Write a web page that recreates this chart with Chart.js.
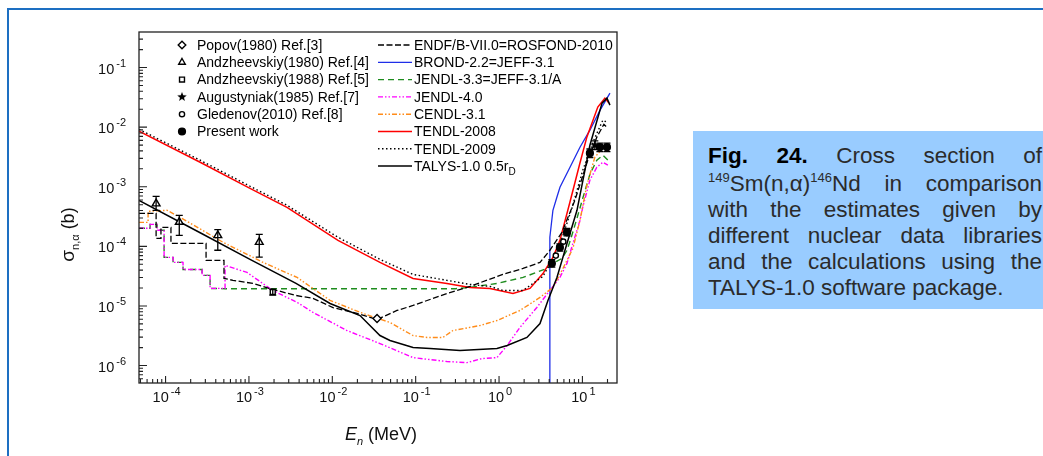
<!DOCTYPE html>
<html>
<head>
<meta charset="utf-8">
<script src="https://cdn.jsdelivr.net/npm/chart.js@4.4.1/dist/chart.umd.min.js"></script>
<style>
  body { margin: 0; background: #fff; width: 1043px; height: 456px; overflow: hidden; position: relative; font-family: "Liberation Sans", Arial, sans-serif; }
  #c { position: absolute; left: 0; top: 0; }
  .frameTop { position: absolute; left: 7px; top: 8px; width: 1036px; height: 2px; background: #1d6fc2; }
  .frameLeft { position: absolute; left: 7px; top: 8px; width: 2px; height: 448px; background: #1d6fc2; }
  .cap { position: absolute; left: 693px; top: 131px; width: 350px; height: 178px; background: #99ccff; }
  .txt { position: absolute; left: 708px; top: 143px; width: 334px; font-size: 22.5px; line-height: 26px; color: #2b2b2b; }
  .ln { text-align: justify; text-align-last: justify; height: 26px; white-space: nowrap; }
  .last { text-align: left; text-align-last: left; }
  .sup { font-size: 13px; position: relative; top: -9px; line-height: 0; }
  b { color: #000; }
</style>
</head>
<body>
<canvas id="c" width="1043" height="456"></canvas>
<div class="frameTop"></div>
<div class="frameLeft"></div>
<div class="cap"></div>
<div class="txt">
  <div class="ln"><b>Fig. 24.</b> Cross section of</div>
  <div class="ln" style="margin-top:2px"><span class="sup">149</span>Sm(n,α)<span class="sup">146</span>Nd in comparison</div>
  <div class="ln">with the estimates given by</div>
  <div class="ln">different nuclear data libraries</div>
  <div class="ln">and the calculations using the</div>
  <div class="ln last">TALYS-1.0 software package.</div>
</div>
<script>
// energies in MeV, cross sections in b

// evaluated libraries
const endfE = [4.8e-5, 7.7e-5, 7.7e-5, 8.8e-5, 8.8e-5, 1.16e-4, 1.16e-4, 3.06e-4, 3.06e-4, 5.02e-4, 5.02e-4, 6.44e-4, 1.12e-3, 1.74e-3, 3.67e-3, 5.87e-3, 1.02e-2, 1.98e-2, 3.44e-2, 5.97e-2, 9.3e-2, 0.237, 0.448, 1.11, 1.94, 3.10, 4.07, 5.68, 8.13, 11.6, 14.9, 18.1, 20.2]
const endfS = [3.59e-4, 3.59e-4, 1.36e-4, 1.36e-4, 2.08e-4, 2.08e-4, 1.12e-4, 1.12e-4, 5.82e-5, 5.82e-5, 2.90e-5, 2.69e-5, 2.39e-5, 1.97e-5, 1.50e-5, 1.34e-5, 9.4e-6, 7.5e-6, 5.93e-6, 8.4e-6, 1.02e-5, 1.62e-5, 2.13e-5, 3.38e-5, 4.26e-5, 5.38e-5, 8.57e-5, 1.72e-4, 5.93e-4, 2.79e-3, 6.8e-3, 1.12e-2, 9.6e-3]

const brondE = [4.07, 4.07, 4.43, 4.94, 5.38, 7.10, 9.35, 12.3, 16.3, 21.4]
const brondS = [1e-7, 1.42e-4, 4.03e-4, 6.67e-4, 9.8e-4, 2.13e-3, 4.61e-3, 8.9e-3, 1.93e-2, 3.73e-2]

const jendl33E = [4.8e-5, 6.52e-5, 6.52e-5, 7.91e-5, 7.91e-5, 9.6e-5, 9.6e-5, 1.23e-4, 1.23e-4, 1.62e-4, 1.62e-4, 2.74e-4, 2.74e-4, 3.42e-4, 3.42e-4, 5.17e-4, 0.30, 0.448, 0.944, 1.94, 3.75, 4.68, 5.68, 6.53, 7.28, 8.61, 10.1, 12.3, 14.9, 17.6, 20.2]
const jendl33S = [2.01e-4, 2.01e-4, 2.34e-4, 2.34e-4, 1.86e-4, 1.86e-4, 6.53e-5, 6.53e-5, 5.38e-5, 5.38e-5, 4.10e-5, 4.10e-5, 3.26e-5, 3.26e-5, 1.97e-5, 1.95e-5, 1.95e-5, 2.05e-5, 2.39e-5, 3.01e-5, 4.26e-5, 5.38e-5, 6.28e-5, 8.57e-5, 1.36e-4, 2.96e-4, 6.41e-4, 1.62e-3, 2.79e-3, 3.38e-3, 2.79e-3]

const jendl40E = [4.8e-5, 6.52e-5, 6.52e-5, 7.91e-5, 7.91e-5, 9.6e-5, 9.6e-5, 1.23e-4, 1.23e-4, 1.62e-4, 1.62e-4, 2.74e-4, 2.74e-4, 3.42e-4, 3.42e-4, 5.17e-4, 5.17e-4, 9.49e-4, 1.93e-3, 3.78e-3, 5.87e-3, 1.50e-2, 3.73e-2, 9.3e-2, 0.237, 0.412, 0.624, 0.944, 1.25, 1.78, 2.84, 4.07, 5.37, 6.53, 7.69, 9.35, 10.1, 12.3, 14.9, 17.6, 20.2]
const jendl40S = [2.01e-4, 2.01e-4, 2.34e-4, 2.34e-4, 1.86e-4, 1.86e-4, 6.53e-5, 6.53e-5, 5.38e-5, 5.38e-5, 4.10e-5, 4.10e-5, 3.26e-5, 3.26e-5, 1.97e-5, 1.97e-5, 4.80e-5, 3.65e-5, 1.82e-5, 1.15e-5, 7.78e-6, 3.87e-6, 2.34e-6, 1.36e-6, 1.17e-6, 1.12e-6, 1.31e-6, 1.36e-6, 2.17e-6, 4.36e-6, 9.44e-6, 1.82e-5, 3.01e-5, 5.18e-5, 1.12e-4, 2.73e-4, 4.52e-4, 1.29e-3, 2.13e-3, 2.58e-3, 2.30e-3]

const cendlE = [4.8e-5, 6.17e-5, 6.17e-5, 1.04e-4, 1.49e-4, 4.89e-4, 1.48e-3, 3.78e-3, 9.38e-3, 2.33e-2, 4.92e-2, 9.3e-2, 0.137, 0.212, 0.280, 0.59, 0.944, 1.78, 3.10, 4.43, 5.84, 7.69, 9.35, 11.3, 14.1, 16.7]
const cendlS = [2.53e-4, 2.53e-4, 3.87e-4, 4.03e-4, 3.07e-4, 1.17e-4, 5.38e-5, 3.01e-5, 1.24e-5, 7.5e-6, 5.28e-6, 3.19e-6, 2.96e-6, 2.96e-6, 3.87e-6, 4.70e-6, 5.70e-6, 8.4e-6, 1.39e-5, 2.05e-5, 4.26e-5, 9.25e-5, 2.73e-4, 1.06e-3, 3.13e-3, 4.10e-3]

const tendl08E = [4.8e-5, 2.6e-4, 1.03e-3, 2.86e-3, 1.17e-2, 3.73e-2, 9.3e-2, 0.237, 0.448, 0.778, 1.47, 2.35, 3.36, 4.43, 5.37, 7.08, 9.33, 11.3, 15.3, 18.6, 20.8]
const tendl08S = [8.6e-3, 2.58e-3, 9.4e-4, 4.5e-4, 1.26e-4, 5.4e-5, 2.9e-5, 2.39e-5, 2.05e-5, 1.97e-5, 1.62e-5, 1.97e-5, 3.5e-5, 6.5e-5, 1.26e-4, 5.5e-4, 2.48e-3, 6.8e-3, 2.17e-2, 3.07e-2, 2.53e-2]

const tendl09E = [4.8e-5, 2.6e-4, 1.03e-3, 2.86e-3, 1.17e-2, 3.73e-2, 9.3e-2, 0.237, 0.448, 0.778, 1.11, 1.94, 3.36, 4.43, 5.68, 7.48, 10.1, 13.7, 17.6, 19.7]
const tendl09S = [9.2e-3, 2.79e-3, 1.02e-3, 4.89e-4, 1.42e-4, 6.05e-5, 3.38e-5, 2.69e-5, 2.30e-5, 2.13e-5, 1.82e-5, 1.82e-5, 3.13e-5, 6.28e-5, 1.36e-4, 4.36e-4, 1.89e-3, 6.05e-3, 1.31e-2, 1.21e-2]

const talysE = [4.8e-5, 2.6e-4, 1.03e-3, 3.67e-3, 9.4e-3, 2.15e-2, 3.73e-2, 4.92e-2, 9.3e-2, 0.149, 0.34, 0.944, 1.25, 2.16, 3.10, 3.86, 4.95, 6.53, 8.61, 12.3, 17.2, 19.7, 21.4]
const talysS = [5.93e-4, 1.69e-4, 6.05e-5, 2.39e-5, 1.10e-5, 6.9e-6, 3.19e-6, 2.63e-6, 2.01e-6, 1.93e-6, 1.79e-6, 1.93e-6, 2.17e-6, 2.96e-6, 5.08e-6, 1.24e-5, 3.01e-5, 1.12e-4, 4.03e-4, 4.98e-3, 2.53e-2, 3.07e-2, 2.34e-2]

// measurements
const popovE = [3.44e-2]
const popovS = [6.17e-6]

const andz80E = [7.7e-5, 1.46e-4, 4.23e-4, 1.33e-3]
const andz80S = [5.22e-4, 2.56e-4, 1.53e-4, 1.18e-4]
const andz80Lo = [4.03e-4, 1.53e-4, 8.6e-5, 6.6e-5]
const andz80Hi = [6.92e-4, 3.32e-4, 1.91e-4, 1.59e-4]

const andz88E = [1.93e-3]
const andz88S = [1.71e-5]
const andz88Lo = [1.52e-5]
const andz88Hi = [1.92e-5]

const augE = [14.1]
const augS = [4.98e-3]
const augLo = [4.2e-3]
const augHi = [5.9e-3]

const gledE = [4.8, 5.9]
const gledS = [7.0e-5, 1.2e-4]

const presentE = [4.3, 5.37, 6.53, 12.3, 16.2, 19.7]
const presentS = [5.18e-5, 9.6e-5, 1.72e-4, 3.66e-3, 4.61e-3, 4.61e-3]
const presentLo = [4.5e-5, 8.3e-5, 1.5e-4, 3.1e-3, 3.9e-3, 3.9e-3]
const presentHi = [6.0e-5, 1.1e-4, 2.0e-4, 4.3e-3, 5.4e-3, 5.4e-3]

const FONT = '"Liberation Sans", Arial, sans-serif'

const pts = (E, S) => E.map((e, i) => ({ x: e, y: S[i] }))

function starImage (r) {
  const c = document.createElement('canvas')
  c.width = c.height = 2 * r + 2
  const g = c.getContext('2d')
  g.fillStyle = '#000'
  g.beginPath()
  for (let i = 0; i < 10; i++) {
    const a = -Math.PI / 2 + i * Math.PI / 5
    const rr = i % 2 ? r * 0.42 : r
    g.lineTo(r + 1 + rr * Math.cos(a), r + 1 + rr * Math.sin(a))
  }
  g.closePath()
  g.fill()
  return c
}
const star = starImage(5)

function lineSet (label, E, S, color, dash, width, order) {
  return {
    label, data: pts(E, S), showLine: true, pointRadius: 0,
    borderColor: color, backgroundColor: color, borderDash: dash,
    borderWidth: width, order, tension: 0, isCurve: true
  }
}

function markSet (label, E, S, style, radius, fill, lo, hi) {
  return {
    label, data: pts(E, S), showLine: false, pointStyle: style,
    pointRadius: radius, pointBorderWidth: 1.4, borderColor: '#000',
    backgroundColor: fill, order: 0, errLo: lo, errHi: hi, isMark: true
  }
}

const datasets = [
  markSet('Popov(1980) Ref.[3]', popovE, popovS, 'rectRot', 4, '#fff'),
  markSet('Andzheevskiy(1980) Ref.[4]', andz80E, andz80S, 'triangle', 4.5, '#fff', andz80Lo, andz80Hi),
  markSet('Andzheevskiy(1988) Ref.[5]', andz88E, andz88S, 'rect', 3.5, '#fff', andz88Lo, andz88Hi),
  markSet('Augustyniak(1985) Ref.[7]', augE, augS, star, 5, '#000', augLo, augHi),
  markSet('Gledenov(2010) Ref.[8]', gledE, gledS, 'circle', 2.6, '#fff'),
  markSet('Present work', presentE, presentS, 'circle', 3.4, '#000', presentLo, presentHi),
  lineSet('ENDF/B-VII.0=ROSFOND-2010', endfE, endfS, '#000', [6, 2.5], 1.3, 2),
  lineSet('BROND-2.2=JEFF-3.1', brondE, brondS, '#1f2ee8', [], 1.3, 8),
  lineSet('JENDL-3.3=JEFF-3.1/A', jendl33E, jendl33S, '#1e8c1e', [6, 4], 1.4, 7),
  lineSet('JENDL-4.0', jendl40E, jendl40S, '#ff00ff', [5, 2, 1.5, 2, 1.5, 2], 1.4, 6),
  lineSet('CENDL-3.1', cendlE, cendlS, '#ff8c1a', [5, 2, 1.5, 2, 1.5, 2], 1.4, 5),
  lineSet('TENDL-2008', tendl08E, tendl08S, '#ff0000', [], 1.5, 4),
  lineSet('TENDL-2009', tendl09E, tendl09S, '#000', [1.5, 2.5], 1.4, 3),
  lineSet('TALYS-1.0 0.5r', talysE, talysS, '#000', [], 1.5, 1)
]

function logTicks (min, max) {
  const out = []
  for (let n = Math.floor(Math.log10(min)); n <= Math.ceil(Math.log10(max)); n++) {
    for (let k = 1; k <= 9; k++) {
      const v = Number((k * Math.pow(10, n)).toPrecision(3))
      if (v >= min && v <= max) out.push({ value: v, major: k === 1 })
    }
  }
  return out
}

function powLabel (ctx, exp, x, y, align) {
  ctx.font = '14.5px ' + FONT
  const w1 = ctx.measureText('10').width
  ctx.font = '11px ' + FONT
  const w2 = ctx.measureText(String(exp)).width
  const total = w1 + 2 + w2
  const x0 = align === 'center' ? x - total / 2 : x - total
  ctx.textAlign = 'left'
  ctx.textBaseline = 'middle'
  ctx.font = '14.5px ' + FONT
  ctx.fillText('10', x0, y)
  ctx.font = '11px ' + FONT
  ctx.fillText(String(exp), x0 + w1 + 2, y - 6)
}

const errorBars = {
  id: 'errorBars',
  afterDatasetsDraw (chart) {
    const { ctx, scales: { x, y } } = chart
    ctx.save()
    ctx.strokeStyle = '#000'
    ctx.lineWidth = 1.3
    chart.data.datasets.forEach(ds => {
      if (!ds.errLo) return
      ds.data.forEach((p, i) => {
        const px = x.getPixelForValue(p.x)
        const y1 = y.getPixelForValue(ds.errLo[i])
        const y2 = y.getPixelForValue(ds.errHi[i])
        ctx.beginPath()
        ctx.moveTo(px, y1); ctx.lineTo(px, y2)
        ctx.moveTo(px - 3.5, y1); ctx.lineTo(px + 3.5, y1)
        ctx.moveTo(px - 3.5, y2); ctx.lineTo(px + 3.5, y2)
        ctx.stroke()
      })
    })
    ctx.restore()
  }
}

const frameAxes = {
  id: 'frameAxes',
  afterDraw (chart) {
    const { ctx, chartArea: a, scales: { x, y } } = chart
    ctx.save()
    ctx.strokeStyle = '#222'
    ctx.lineWidth = 1.3
    ctx.strokeRect(a.left, a.top, a.right - a.left, a.bottom - a.top)
    ctx.lineWidth = 1.1
    ctx.beginPath()
    x.ticks.forEach(t => {
      const px = x.getPixelForValue(t.value)
      const len = t.major ? 7 : 4
      ctx.moveTo(px, a.bottom); ctx.lineTo(px, a.bottom - len)
    })
    y.ticks.forEach(t => {
      const py = y.getPixelForValue(t.value)
      const len = t.major ? 8 : 4
      ctx.moveTo(a.left, py); ctx.lineTo(a.left + len, py)
    })
    ctx.stroke()

    ctx.fillStyle = '#111'
    x.ticks.filter(t => t.major).forEach(t => {
      powLabel(ctx, Math.round(Math.log10(t.value)), x.getPixelForValue(t.value) + 1, a.bottom + 15, 'center')
    })
    y.ticks.filter(t => t.major).forEach(t => {
      powLabel(ctx, Math.round(Math.log10(t.value)), a.left - 13, y.getPixelForValue(t.value) + 2, 'right')
    })

    // x title
    ctx.textBaseline = 'alphabetic'
    ctx.font = 'italic 18px ' + FONT
    const wE = ctx.measureText('E').width
    ctx.font = 'italic 11px ' + FONT
    const wn = ctx.measureText('n').width
    ctx.font = '18px ' + FONT
    const wM = ctx.measureText(' (MeV)').width
    let tx = (a.left + a.right) / 2 + 3 - (wE + wn + wM) / 2
    ctx.font = 'italic 18px ' + FONT
    ctx.fillText('E', tx, 440)
    ctx.font = 'italic 11px ' + FONT
    ctx.fillText('n', tx + wE, 445)
    ctx.font = '18px ' + FONT
    ctx.fillText(' (MeV)', tx + wE + wn, 440)

    // y title
    ctx.save()
    ctx.translate(74, (a.top + a.bottom) / 2 + 27)
    ctx.rotate(-Math.PI / 2)
    ctx.font = '19px ' + FONT
    const ws = ctx.measureText('σ').width
    ctx.font = '11px ' + FONT
    const wsub = ctx.measureText('n,α').width
    ctx.font = '18px ' + FONT
    const wb = ctx.measureText(' (b)').width
    tx = -(ws + wsub + wb) / 2
    ctx.font = '19px ' + FONT
    ctx.fillText('σ', tx, 0)
    ctx.font = '11px ' + FONT
    ctx.fillText('n,α', tx + ws, 5)
    ctx.font = '18px ' + FONT
    ctx.fillText(' (b)', tx + ws + wsub, 0)
    ctx.restore()

    // legend
    const marks = chart.data.datasets.filter(d => d.isMark)
    const curves = chart.data.datasets.filter(d => d.isCurve)
    ctx.textBaseline = 'middle'
    marks.forEach((d, i) => {
      const ly = a.top + 13 + i * 17.3
      ctx.strokeStyle = '#000'
      ctx.fillStyle = d.backgroundColor
      ctx.lineWidth = 1.4
      Chart.helpers.drawPoint(ctx, { pointStyle: d.pointStyle, radius: Math.min(d.pointRadius, 3.8), rotation: 0, borderWidth: 1.4 }, a.left + 43, ly)
      ctx.fillStyle = '#000'
      ctx.font = '14px ' + FONT
      ctx.fillText(d.label, a.left + 58, ly + 1)
    })
    curves.forEach((d, i) => {
      const ly = a.top + 13 + i * 17.3
      ctx.strokeStyle = d.borderColor
      ctx.lineWidth = d.borderWidth
      ctx.setLineDash(d.borderDash)
      ctx.beginPath()
      ctx.moveTo(a.left + 239, ly); ctx.lineTo(a.left + 273, ly)
      ctx.stroke()
      ctx.setLineDash([])
      ctx.fillStyle = '#000'
      ctx.font = '14px ' + FONT
      ctx.fillText(d.label, a.left + 275, ly + 1)
      if (d.label.startsWith('TALYS')) {
        const w = ctx.measureText(d.label).width
        ctx.font = '10px ' + FONT
        ctx.fillText('D', a.left + 275 + w, ly + 6)
      }
    })
    ctx.restore()
  }
}

const chart = new Chart(document.getElementById('c'), {
  type: 'scatter',
  data: { datasets },
  options: {
    responsive: false,
    animation: false,
    layout: { padding: { left: 139, top: 32, right: 426, bottom: 73 } },
    plugins: { legend: { display: false }, tooltip: { enabled: false } },
    scales: {
      x: {
        type: 'logarithmic', min: 4.8e-5, max: 26,
        grid: { display: false, drawTicks: false }, border: { display: false },
        ticks: { display: false },
        afterBuildTicks: s => { s.ticks = logTicks(s.min, s.max) }
      },
      y: {
        type: 'logarithmic', min: 5.1e-7, max: 0.395,
        grid: { display: false, drawTicks: false }, border: { display: false },
        ticks: { display: false },
        afterBuildTicks: s => { s.ticks = logTicks(s.min, s.max) }
      }
    }
  },
  plugins: [errorBars, frameAxes]
})
</script>
</body>
</html>
